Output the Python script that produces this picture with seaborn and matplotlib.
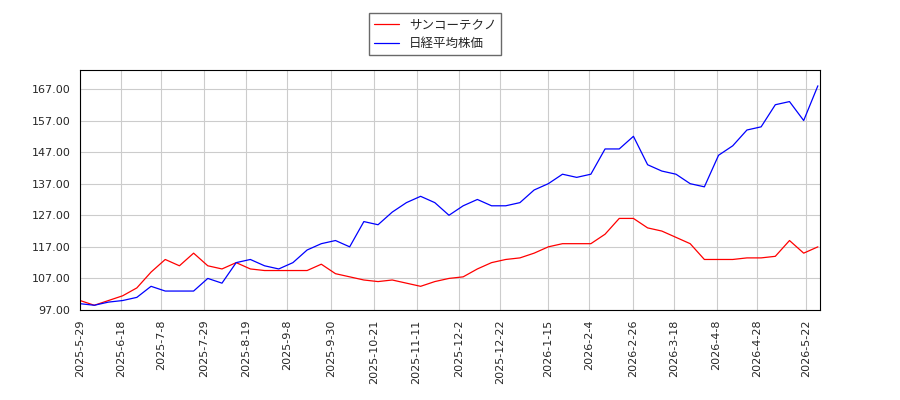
import pandas as pd
import seaborn as sns
import matplotlib.pyplot as plt
import matplotlib.ticker as mticker

dates = pd.date_range("2025-05-29", periods=53, freq="7D")

# Weekly values (normalised to 100 at start)
sanko = [100, 98.5, 100, 101.5, 104, 109, 113, 111, 115, 111, 110, 112, 110, 109.5,
         109.5, 109.5, 109.5, 111.5, 108.5, 107.5, 106.5, 106, 106.5, 105.5, 104.5, 106,
         107, 107.5, 110, 112, 113, 113.5, 115, 117, 118, 118, 118, 121, 126, 126,
         123, 122, 120, 118, 113, 113, 113, 113.5, 113.5, 114, 119, 115, 117]
nikkei = [99, 98.5, 99.5, 100, 101, 104.5, 103, 103, 103, 107, 105.5, 112, 113, 111,
          110, 112, 116, 118, 119, 117, 125, 124, 128, 131, 133, 131, 127, 130, 132,
          130, 130, 131, 135, 137, 140, 139, 140, 148, 148, 152, 143, 141, 140, 137,
          136, 146, 149, 154, 155, 162, 163, 157, 168]

tick_dates = ["2025-5-29", "2025-6-18", "2025-7-8", "2025-7-29", "2025-8-19", "2025-9-8",
              "2025-9-30", "2025-10-21", "2025-11-11", "2025-12-2", "2025-12-22",
              "2026-1-15", "2026-2-4", "2026-2-26", "2026-3-18", "2026-4-8",
              "2026-4-28", "2026-5-22"]

df = pd.DataFrame({"date": dates, "サンコーテクノ": sanko, "日経平均株価": nikkei})
long = df.melt(id_vars="date", var_name="series", value_name="value")

sns.set_style("white")
plt.rcParams["font.family"] = ["Noto Sans CJK JP", "DejaVu Sans"]

fig = plt.figure(figsize=(9, 4), dpi=100)
ax = fig.add_axes([0.089, 0.225, 0.822, 0.6])
sns.lineplot(data=long, x="date", y="value", hue="series",
             palette={"サンコーテクノ": "red", "日経平均株価": "blue"},
             linewidth=0.9, ax=ax)

ax.set_xlim(dates[0], dates[-1] + pd.Timedelta(days=1))
ax.set_ylim(97, 173)
ax.set_yticks(range(97, 168, 10))
ax.yaxis.set_major_formatter(mticker.FormatStrFormatter("%.2f"))
ticks = pd.to_datetime(tick_dates)
ax.set_xticks(ticks)
ax.set_xticklabels(tick_dates, rotation=90, fontsize=8, family="DejaVu Sans")
for lab in ax.get_yticklabels():
    lab.set_fontsize(8)
    lab.set_family("DejaVu Sans")
ax.grid(True, color="#cccccc", linewidth=0.8)
for spine in ax.spines.values():
    spine.set_visible(True)
    spine.set_color("black")
ax.set_xlabel("")
ax.set_ylabel("")

ax.legend(title=None, loc="lower center", bbox_to_anchor=(0.48, 1.035),
          frameon=True, fancybox=False, edgecolor="#444444", fontsize=9)

fig.savefig("out.png", dpi=100)
